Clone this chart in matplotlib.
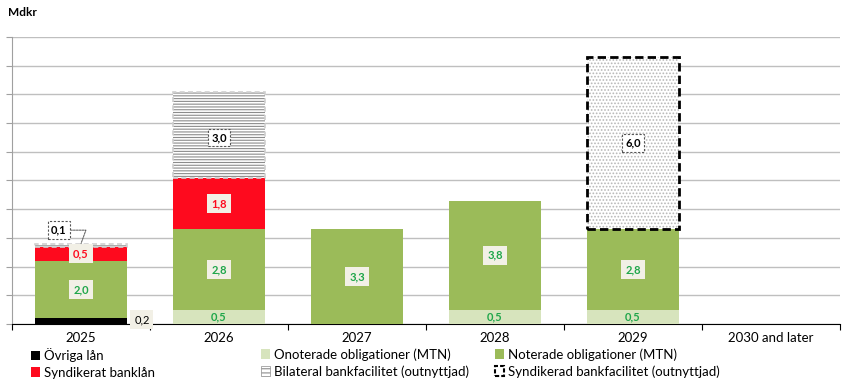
import matplotlib
matplotlib.use('Agg')
import matplotlib.pyplot as plt
from matplotlib.patches import Patch

plt.rcParams['font.family'] = ['Lato', 'DejaVu Sans']
plt.rcParams['hatch.linewidth'] = 0.8

# data (Mdkr)
years = ['2025', '2026', '2027', '2028', '2029', '2030 and later']
ovriga = [0.2, 0, 0, 0, 0, 0]
onoterade = [0, 0.5, 0, 0.5, 0.5, 0]
noterade = [2.0, 2.8, 3.3, 3.8, 2.8, 0]
synd_lan = [0.5, 1.8, 0, 0, 0, 0]
bilateral = [0.1, 3.0, 0, 0, 0, 0]
synd_fac = [0, 0, 0, 0, 6.0, 0]

c_black = '#000000'
c_light = '#d7e4bd'
c_green = '#9bbb59'
c_red = '#fe0a1e'
c_lbl_green = '#1fa64a'
c_box = '#f2f0e6'

fig = plt.figure(figsize=(8.5, 3.85), dpi=100)
ax = fig.add_axes([12/850, 1 - 324/385, 828/850, 287/385])

x = list(range(len(years)))
w = 0.67
bottom = [0.0] * len(years)

def draw(vals, bots, **kw):
    idx = [i for i in x if vals[i] > 0]
    ax.bar([x[i] for i in idx], [vals[i] for i in idx], w,
           bottom=[bots[i] for i in idx], zorder=3, **kw)

def stack(vals, **kw):
    global bottom
    draw(vals, bottom, **kw)
    mids = [b + v / 2 for b, v in zip(bottom, vals)]
    bottom = [b + v for b, v in zip(bottom, vals)]
    return mids

def fmt(v):
    return ('%.1f' % v).replace('.', ',')

m_ov = stack(ovriga, color=c_black)
m_on = stack(onoterade, color=c_light)
m_no = stack(noterade, color=c_green)
m_sl = stack(synd_lan, color=c_red)
b_bil = list(bottom)
m_bi = stack(bilateral, facecolor='white', edgecolor='#8c8c8c', hatch='------', linewidth=0)
draw(bilateral, b_bil, fill=False, edgecolor='#d0d0d0', linestyle=(0, (3, 2)), linewidth=1.2)
b_sf = list(bottom)
m_sf = stack(synd_fac, facecolor='white', edgecolor='#b8b8b8', hatch='.....', linewidth=0)
draw(synd_fac, b_sf, fill=False, edgecolor='black', linestyle=(0, (3, 1.5)), linewidth=2)

lbl = dict(ha='center', va='center', fontsize=8, fontweight='bold', zorder=6)
dash_box = dict(boxstyle='square,pad=0.3', fc='white', ec='#555555', ls=(0, (2, 1.5)), lw=0.8)
for i in x:
    if ovriga[i] > 0:
        ax.text(i + w / 2 + 0.05, ovriga[i] / 2 + 0.05, fmt(ovriga[i]), color='black',
                bbox=dict(boxstyle='square,pad=0.35', fc=c_box, ec='none'),
                **dict(lbl, ha='left', fontweight='normal'))
    if onoterade[i] > 0:
        ax.text(i, m_on[i], fmt(onoterade[i]), color=c_lbl_green, **lbl)
    if noterade[i] > 0:
        ax.text(i, m_no[i], fmt(noterade[i]), color=c_lbl_green,
                bbox=dict(boxstyle='square,pad=0.35', fc=c_box, ec='none'), **lbl)
    if synd_lan[i] > 0:
        ax.text(i, m_sl[i], fmt(synd_lan[i]), color=c_red,
                bbox=dict(boxstyle='square,pad=0.35', fc=c_box, ec='none'), **lbl)
    if bilateral[i] >= 1:
        ax.text(i, m_bi[i] - 0.1, fmt(bilateral[i]), color='black', bbox=dash_box, **lbl)
    elif bilateral[i] > 0:
        top = b_bil[i] + bilateral[i]
        ax.annotate(fmt(bilateral[i]), xy=(i, top), xytext=(i - 0.16, top + 0.47),
                    color='black', ha='center', va='center', fontsize=8, fontweight='bold',
                    bbox=dash_box,
                    arrowprops=dict(arrowstyle='-', color='#555555', lw=0.7, ls=(0, (2, 1)),
                                    connectionstyle='angle,angleA=0,angleB=70,rad=0',
                                    shrinkA=0, shrinkB=0), zorder=6)
    if synd_fac[i] > 0:
        ax.text(i, m_sf[i], fmt(synd_fac[i]), color='black', bbox=dash_box, **lbl)

ax.set_xlim(-0.5, len(years) - 0.5)
ax.set_ylim(0, 10)
ax.set_yticks(range(0, 11))
ax.set_yticklabels([])
ax.tick_params(axis='y', length=4, color='#a0a0a0', width=0.8)
ax.grid(axis='y', color='#bfbfbf', linewidth=1, zorder=0)
ax.set_xticks(x)
ax.set_xticklabels(years, fontsize=9.5)
ax.set_xticks([i + 0.5 for i in range(-1, len(years))], minor=True)
ax.tick_params(axis='x', which='major', length=0, pad=6)
ax.tick_params(axis='x', which='minor', length=4, color='black', width=0.8)
for s in ['top', 'right']:
    ax.spines[s].set_visible(False)
ax.spines['left'].set_color('#a0a0a0')
ax.spines['bottom'].set_color('black')
ax.spines['bottom'].set_linewidth(0.8)

fig.text(8/850, 1 - 12/385, 'Mdkr', fontsize=8.5, fontweight='bold', va='center', ha='left')

h_ov = Patch(facecolor=c_black, edgecolor='none', label='Övriga lån')
h_sl = Patch(facecolor=c_red, edgecolor='none', label='Syndikerat banklån')
h_on = Patch(facecolor=c_light, edgecolor='none', label='Onoterade obligationer (MTN)')
h_bi = Patch(facecolor='white', edgecolor='#8c8c8c', hatch='----', linewidth=0.5,
             label='Bilateral bankfacilitet (outnyttjad)')
h_no = Patch(facecolor=c_green, edgecolor='none', label='Noterade obligationer (MTN)')
h_sf = Patch(facecolor='white', edgecolor='black', linestyle=(0, (2, 1)), linewidth=1.5,
             label='Syndikerad bankfacilitet (outnyttjad)')

for xpos, hs in [(31/850, [h_ov, h_sl]), (261/850, [h_on, h_bi]), (495/850, [h_no, h_sf])]:
    fig.legend(handles=hs, loc='upper left', bbox_to_anchor=(xpos, 1 - 348/385), frameon=False,
               fontsize=9.5, handlelength=0.7, handleheight=0.7, handletextpad=0.3,
               labelspacing=0.35, borderaxespad=0, borderpad=0)

fig.savefig('out.png', dpi=100)
